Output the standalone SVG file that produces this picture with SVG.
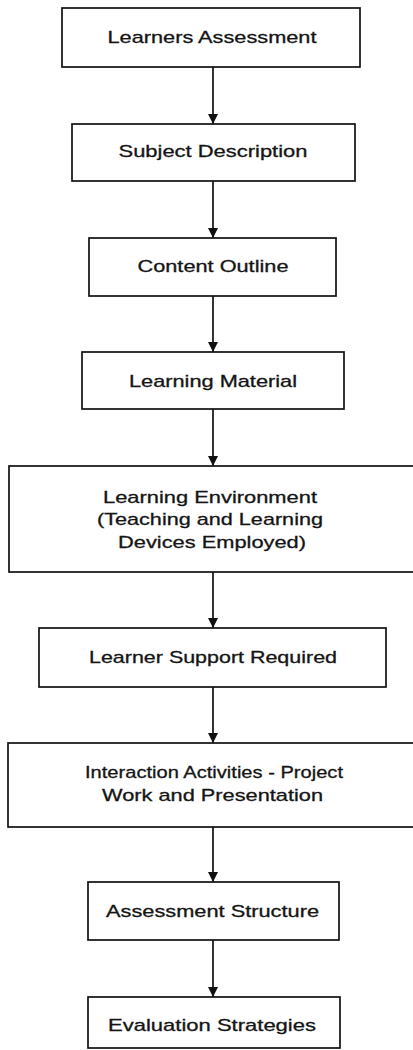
<svg xmlns="http://www.w3.org/2000/svg" width="413" height="1050" viewBox="0 0 413 1050">
<defs>
<marker id="ah" viewBox="0 0 10 10" refX="10" refY="5" markerWidth="10" markerHeight="11" markerUnits="userSpaceOnUse" orient="auto">
<path d="M0,0 L10,5 L0,10 z" fill="#111"/>
</marker>
<style>
.box{fill:#fff;stroke:#111;stroke-width:1.7}
.t{font-family:"Liberation Sans",Arial,sans-serif;font-size:17px;fill:#151515;stroke:#151515;stroke-width:0.3;text-anchor:middle}
.c{stroke:#111;stroke-width:1.7;fill:none}
</style>
</defs>
<rect width="413" height="1050" fill="#fff"/>
<g id="connectors">
<line class="c" x1="213" y1="67" x2="213" y2="124" marker-end="url(#ah)"/>
<line class="c" x1="213" y1="181" x2="213" y2="238" marker-end="url(#ah)"/>
<line class="c" x1="213" y1="296" x2="213" y2="352" marker-end="url(#ah)"/>
<line class="c" x1="213" y1="409" x2="213" y2="466" marker-end="url(#ah)"/>
<line class="c" x1="213" y1="572" x2="213" y2="628" marker-end="url(#ah)"/>
<line class="c" x1="213" y1="687" x2="213" y2="743" marker-end="url(#ah)"/>
<line class="c" x1="213" y1="827" x2="213" y2="882" marker-end="url(#ah)"/>
<line class="c" x1="213" y1="940" x2="213" y2="997" marker-end="url(#ah)"/>
</g>
<g id="n1"><rect class="box" x="62" y="8" width="298" height="59"/>
<text class="t" x="212" y="43" textLength="209" lengthAdjust="spacingAndGlyphs">Learners Assessment</text></g>
<g id="n2"><rect class="box" x="72" y="124" width="283" height="57"/>
<text class="t" x="213" y="157" textLength="189" lengthAdjust="spacingAndGlyphs">Subject Description</text></g>
<g id="n3"><rect class="box" x="89" y="238" width="247" height="58"/>
<text class="t" x="213" y="272" textLength="151" lengthAdjust="spacingAndGlyphs">Content Outline</text></g>
<g id="n4"><rect class="box" x="82" y="352" width="262" height="57"/>
<text class="t" x="213" y="387" textLength="168" lengthAdjust="spacingAndGlyphs">Learning Material</text></g>
<g id="n5"><rect class="box" x="9" y="466" width="410" height="106"/>
<text class="t" x="210" y="503" textLength="214" lengthAdjust="spacingAndGlyphs">Learning Environment</text>
<text class="t" x="210" y="525" textLength="226" lengthAdjust="spacingAndGlyphs">(Teaching and Learning</text>
<text class="t" x="212" y="548" textLength="188" lengthAdjust="spacingAndGlyphs">Devices Employed)</text></g>
<g id="n6"><rect class="box" x="39" y="628" width="347" height="59"/>
<text class="t" x="213" y="663" textLength="248" lengthAdjust="spacingAndGlyphs">Learner Support Required</text></g>
<g id="n7"><rect class="box" x="8" y="743" width="411" height="84"/>
<text class="t" x="214" y="778" textLength="258" lengthAdjust="spacingAndGlyphs">Interaction Activities - Project</text>
<text class="t" x="212.5" y="801" textLength="221" lengthAdjust="spacingAndGlyphs">Work and Presentation</text></g>
<g id="n8"><rect class="box" x="88" y="882" width="251" height="58"/>
<text class="t" x="212.5" y="917" textLength="213" lengthAdjust="spacingAndGlyphs">Assessment Structure</text></g>
<g id="n9"><rect class="box" x="88" y="997" width="252" height="51"/>
<text class="t" x="212" y="1031" textLength="208" lengthAdjust="spacingAndGlyphs">Evaluation Strategies</text></g>
</svg>
